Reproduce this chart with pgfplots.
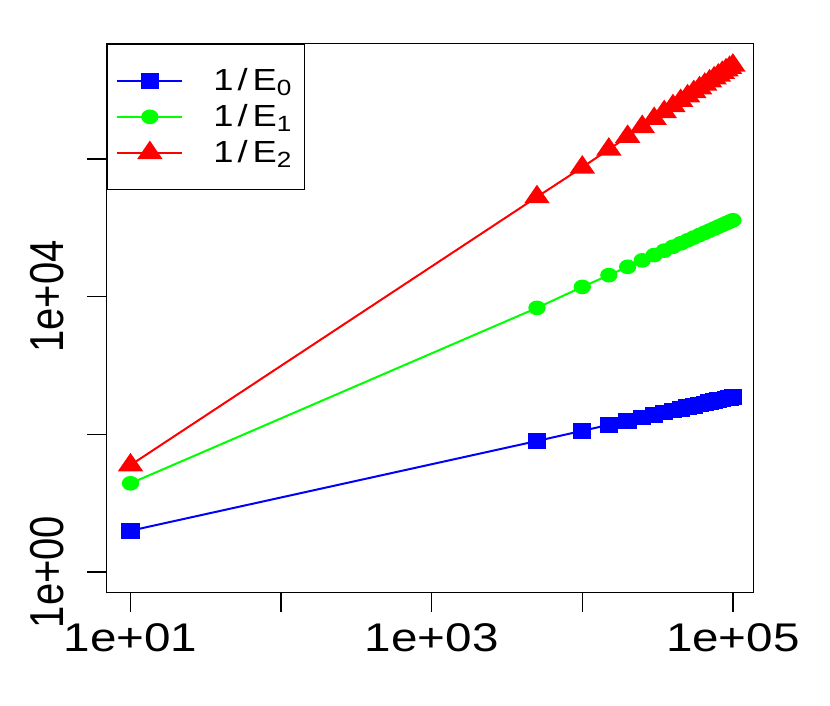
\documentclass[border=0pt]{standalone}
\usepackage{graphicx}
\usepackage{pgfplots}
\pgfplotsset{compat=1.18}
\usepackage{fontspec}
\setmainfont{Liberation Sans}[FakeStretch=1.19]
\newfontfamily\plainsf{Liberation Sans}
\newcommand{\ylab}[1]{\scalebox{1}[1.19]{\plainsf\fontsize{40}{48}\selectfont #1}}
\newcommand{\leg}[1]{1\hspace{4pt}/\hspace{5pt}E\raisebox{-5pt}{\fontsize{22}{22}\selectfont #1}\kern4pt\mbox{}}
\begin{document}
\begin{tikzpicture}
\path[use as bounding box] (0pt,0pt) rectangle (830pt,706pt);
\begin{axis}[
  at={(106.7pt,113.7pt)}, anchor=south west,
  scale only axis, width=646.6pt, height=548.6pt,
  xmode=log, ymode=log,
  xmin=6.95, xmax=136600, ymin=0.5074, ymax=4.714e7,
  axis line style={line width=1.3pt},
  tick style={line width=1.3pt, black},
  major tick length=20pt,
  tick align=outside, tick pos=left,
  xminorticks=false, yminorticks=false,
  xtick={10,100,1000,10000,100000},
  xticklabels={1e+01,,1e+03,,1e+05},
  ytick={1,100,10000,1000000},
  yticklabels={\ylab{1e+00},,\ylab{1e+04},},
  xticklabel style={font=\fontsize{40}{48}\selectfont, anchor=north, inner sep=0pt},
  xticklabel shift=11pt,
  yticklabel style={rotate=90, anchor=south, inner sep=0pt},
  yticklabel shift=23pt,
  clip=false,
  legend cell align=left,
  legend image code/.code={\draw[mark repeat=2,mark phase=2,#1] plot coordinates {(0pt,0pt) (32.5pt,0pt) (65pt,0pt)};},
  legend style={at={(0,1)}, anchor=north west, draw=black, line width=1.3pt, fill=white,
    inner xsep=9pt, inner ysep=18.5pt, column sep=30pt, row sep=0pt,
    nodes={inner sep=0pt, text height=28pt, text depth=8pt, anchor=center},
    font=\fontsize{30.5}{36}\selectfont},
]
\addplot[blue, line width=2pt, mark=square*, mark size=6.85pt, mark options={solid, xscale=1.19}] coordinates {
(10,3.98) (5000,80.0) (10000,112.4) (15000,137.1) (20000,157.8) (25000,176.2) (30000,192.7) (35000,207.8) (40000,221.8) (45000,235.0) (50000,247.5) (55000,259.3) (60000,270.6) (65000,281.4) (70000,291.8) (75000,301.8) (80000,311.5) (85000,320.9) (90000,330.0) (95000,338.9) (100000,347.5)
};
\addlegendentry{\leg{0}}
\addplot[green, line width=2pt, mark=*, mark size=6.35pt, mark options={solid, xscale=1.2}] coordinates {
(10,19.4) (5000,6855) (10000,13830) (15000,20490) (20000,27060) (25000,33590) (30000,40070) (35000,46520) (40000,52940) (45000,59340) (50000,65700) (55000,72070) (60000,78410) (65000,84730) (70000,91030) (75000,97300) (80000,103560) (85000,109830) (90000,116080) (95000,122300) (100000,128530)
};
\addlegendentry{\leg{1}}
\addplot[red, line width=2pt, mark=triangle*, mark size=10.5pt, mark options={solid, xscale=1.19}] coordinates {
(10,35.7) (5000,280000) (10000,755000) (15000,1376000) (20000,2106000) (25000,2931000) (30000,3838000) (35000,4824000) (40000,5877000) (45000,6994000) (50000,8176000) (55000,9415000) (60000,10710000) (65000,12050000) (70000,13450000) (75000,14900000) (80000,16390000) (85000,17930000) (90000,19510000) (95000,21130000) (100000,22800000)
};
\addlegendentry{\leg{2}}
\end{axis}
\end{tikzpicture}
\end{document}
